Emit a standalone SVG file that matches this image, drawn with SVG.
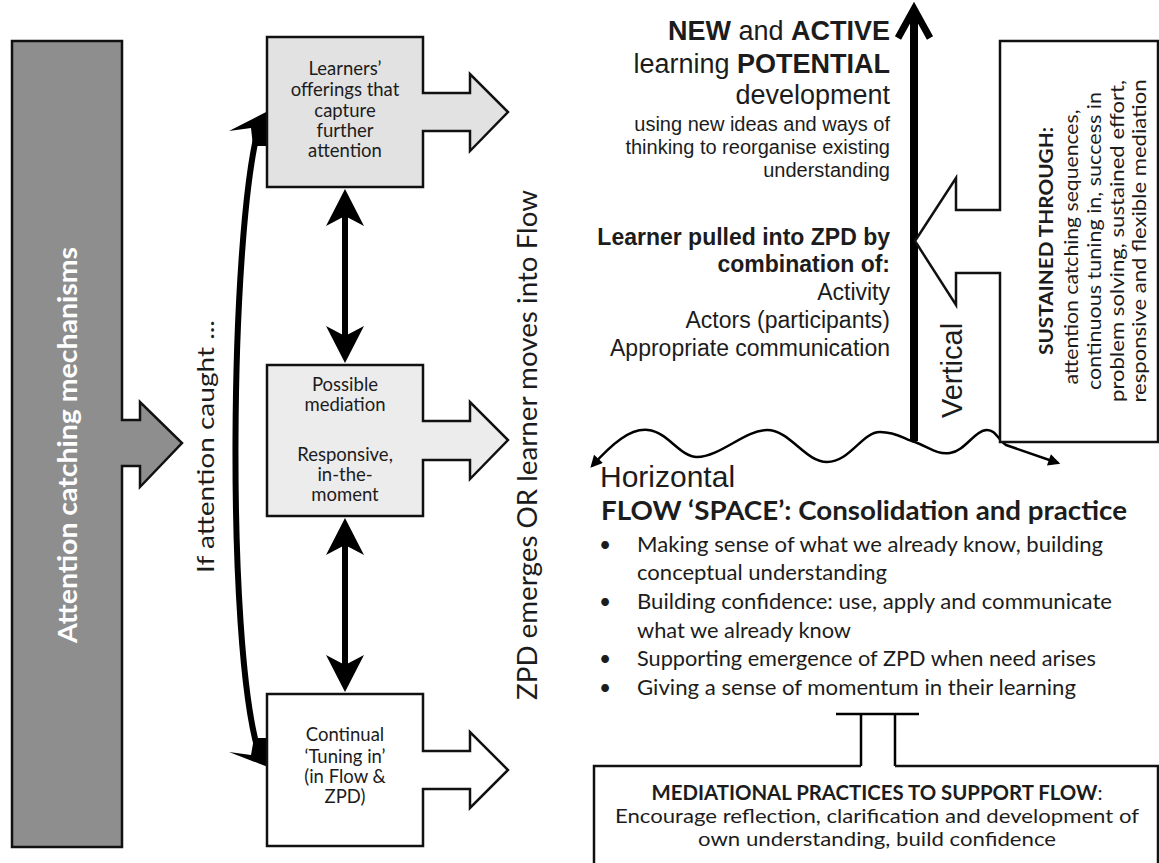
<svg xmlns="http://www.w3.org/2000/svg" width="1159" height="863" viewBox="0 0 1159 863">
  <defs>
    <style>
      .cal { font-family: Lato, "Open Sans", sans-serif; fill: #1c1c1c; }
      .ari { font-family: "Liberation Sans", Arial, sans-serif; fill: #1c1c1c; }
      .box { stroke: #111; stroke-width: 2.5; stroke-linejoin: miter; }
      .thick { fill: none; stroke: #000; stroke-width: 6; }
      .thin { fill: none; stroke: #000; stroke-width: 2.5; }
      .head { fill: #000; }
    </style>
    <marker id="tri" viewBox="0 0 10 10" refX="8" refY="5" markerWidth="14" markerHeight="12" markerUnits="userSpaceOnUse" orient="auto-start-reverse">
      <path d="M0,0 L10,5 L0,10 z" fill="#000"/>
    </marker>
  </defs>
  <rect width="1159" height="863" fill="#fff"/>

  <!-- connectors -->
  <g id="connectors">
    <!-- curved loop on the left of the boxes -->
    <path class="thick" d="M258,130 C230,240 226,640 258,750"/>
    <polygon class="head" points="268,111 229,131 251,128 253,146 268,146"/>
    <polygon class="head" points="268,767 229,752 251,755 254,738 268,738"/>
    <!-- double arrows between boxes -->
    <line class="thick" x1="345" y1="212" x2="345" y2="340"/>
    <polygon class="head" points="345,189 364,226 345,216 326,226"/>
    <polygon class="head" points="345,363 364,326 345,336 326,326"/>
    <line class="thick" x1="345" y1="541" x2="345" y2="669"/>
    <polygon class="head" points="345,518 364,555 345,545 326,555"/>
    <polygon class="head" points="345,692 364,655 345,665 326,655"/>
    <!-- vertical axis -->
    <line x1="914" y1="14" x2="914" y2="441" stroke="#000" stroke-width="8"/>
    <polyline points="898,38 914,9 930,38" fill="none" stroke="#000" stroke-width="7" stroke-linejoin="miter"/>
    <!-- horizontal wavy axis -->
    <path class="thin" marker-start="url(#tri)" marker-end="url(#tri)" d="M592,466 C612,444 630,428 648,430 C668,432 680,457 697,457 C720,457 745,430 767,430 C790,430 805,462 827,462 C850,462 862,432 880,432 C898,432 905,440 915,442 C930,448 938,455 950,453 C965,451 975,430 987,430 C996,430 998,440 1006,445 L1058,463"/>
    <!-- T link into the bottom box -->
    <path class="thin" d="M836,714 H919 M861,714 V766 M895,714 V766"/>
  </g>

  <!-- attention catching bar -->
  <g id="attention">
    <polygon class="box" fill="#8e8e8e" points="12,41 122,41 122,420 140,420 140,402 182,443 140,487 140,466 122,466 122,847 12,847"/>
    <text class="cal" transform="translate(77,643) rotate(-90)" font-size="27" font-weight="bold" style="fill:#fff" textLength="396" lengthAdjust="spacingAndGlyphs">Attention catching mechanisms</text>
  </g>

  <g id="caught-label">
    <text class="cal" transform="translate(214,573) rotate(-90)" font-size="24" textLength="253" lengthAdjust="spacingAndGlyphs">If attention caught ...</text>
  </g>

  <!-- three stage boxes -->
  <g id="offerings">
    <polygon class="box" fill="#e2e2e2" points="267,37 423,37 423,93 470,93 470,74 508,112 470,151 470,131 423,131 423,187 267,187"/>
    <g class="cal" font-size="18.5" text-anchor="middle">
      <text x="345" y="75">Learners’</text>
      <text x="345" y="96">offerings that</text>
      <text x="345" y="117">capture</text>
      <text x="345" y="137">further</text>
      <text x="345" y="157">attention</text>
    </g>
  </g>

  <g id="mediation">
    <polygon class="box" fill="#ececec" points="267,365 423,365 423,421 470,421 470,402 508,440 470,479 470,460 423,460 423,516 267,516"/>
    <g class="cal" font-size="18.5" text-anchor="middle">
      <text x="345" y="391">Possible</text>
      <text x="345" y="411">mediation</text>
      <text x="345" y="461">Responsive,</text>
      <text x="345" y="481">in-the-</text>
      <text x="345" y="501">moment</text>
    </g>
  </g>

  <g id="tuning">
    <polygon class="box" fill="#fff" points="267,694 423,694 423,751 470,751 470,732 508,770 470,808 470,789 423,789 423,846 267,846"/>
    <g class="cal" font-size="18.5" text-anchor="middle">
      <text x="345" y="741">Continual</text>
      <text x="345" y="763">‘Tuning in’</text>
      <text x="345" y="783">(in Flow &amp;</text>
      <text x="345" y="803">ZPD)</text>
    </g>
  </g>

  <g id="zpd-label">
    <text class="cal" transform="translate(537,700) rotate(-90)" font-size="27" textLength="510" lengthAdjust="spacingAndGlyphs">ZPD emerges OR learner moves into Flow</text>
  </g>

  <!-- upper right: potential development -->
  <g id="potential" class="ari" text-anchor="end">
    <text x="890" y="40" font-size="27"><tspan font-weight="bold">NEW</tspan> and <tspan font-weight="bold">ACTIVE</tspan></text>
    <text x="890" y="73" font-size="27">learning <tspan font-weight="bold">POTENTIAL</tspan></text>
    <text x="890" y="104" font-size="27">development</text>
    <text x="890" y="131" font-size="20">using new ideas and ways of</text>
    <text x="890" y="154" font-size="20">thinking to reorganise existing</text>
    <text x="890" y="177" font-size="20">understanding</text>
  </g>

  <g id="pulled" class="ari" text-anchor="end">
    <text x="890" y="245" font-size="23" font-weight="bold">Learner pulled into ZPD by</text>
    <text x="890" y="272" font-size="23" font-weight="bold">combination of:</text>
    <text x="890" y="300" font-size="23">Activity</text>
    <text x="890" y="328" font-size="23">Actors (participants)</text>
    <text x="890" y="356" font-size="23">Appropriate communication</text>
  </g>

  <g id="vertical-label">
    <text class="ari" transform="translate(962,418) rotate(-90)" font-size="29">Vertical</text>
  </g>

  <!-- sustained through callout -->
  <g id="sustained">
    <polygon class="box" fill="#fff" points="1000,41 1158,41 1158,442 1000,442 1000,273 956,273 956,305 915,241 956,178 956,210 1000,210"/>
    <g class="cal" font-size="19" text-anchor="middle">
      <text transform="translate(1053,241) rotate(-90)" font-weight="bold" textLength="228" lengthAdjust="spacingAndGlyphs">SUSTAINED THROUGH:</text>
      <text transform="translate(1078,247) rotate(-90)" textLength="275" lengthAdjust="spacingAndGlyphs">attention catching sequences,</text>
      <text transform="translate(1101,241) rotate(-90)" textLength="298" lengthAdjust="spacingAndGlyphs">continuous tuning in, success in</text>
      <text transform="translate(1124,241) rotate(-90)" textLength="322" lengthAdjust="spacingAndGlyphs">problem solving, sustained effort,</text>
      <text transform="translate(1146,241) rotate(-90)" textLength="323" lengthAdjust="spacingAndGlyphs">responsive and flexible mediation</text>
    </g>
  </g>

  <!-- flow space -->
  <g id="flow">
    <text class="ari" x="600" y="487" font-size="30">Horizontal</text>
    <text class="cal" x="601" y="520" font-size="26" font-weight="bold" textLength="526" lengthAdjust="spacingAndGlyphs">FLOW ‘SPACE’: Consolidation and practice</text>
    <g class="cal" font-size="21">
      <text x="599" y="552">•</text>
      <text x="637" y="552" textLength="466" lengthAdjust="spacingAndGlyphs">Making sense of what we already know, building</text>
      <text x="637" y="580" textLength="250" lengthAdjust="spacingAndGlyphs">conceptual understanding</text>
      <text x="599" y="609">•</text>
      <text x="637" y="609" textLength="475" lengthAdjust="spacingAndGlyphs">Building confidence: use, apply and communicate</text>
      <text x="637" y="638" textLength="214" lengthAdjust="spacingAndGlyphs">what we already know</text>
      <text x="599" y="666">•</text>
      <text x="637" y="666" textLength="459" lengthAdjust="spacingAndGlyphs">Supporting emergence of ZPD when need arises</text>
      <text x="599" y="695">•</text>
      <text x="637" y="695" textLength="439" lengthAdjust="spacingAndGlyphs">Giving a sense of momentum in their learning</text>
    </g>
  </g>

  <!-- mediational practices box -->
  <g id="mediational">
    <path d="M594,863 V766 H861 M895,766 H1158 V863" fill="none" stroke="#111" stroke-width="2.5"/>
    <g class="cal" font-size="20" text-anchor="middle">
      <text x="877" y="800" textLength="451" lengthAdjust="spacingAndGlyphs"><tspan font-weight="bold">MEDIATIONAL PRACTICES TO SUPPORT FLOW</tspan>:</text>
      <text x="877" y="823" textLength="524" lengthAdjust="spacingAndGlyphs">Encourage reflection, clarification and development of</text>
      <text x="877" y="846" textLength="358" lengthAdjust="spacingAndGlyphs">own understanding, build confidence</text>
    </g>
  </g>
</svg>
